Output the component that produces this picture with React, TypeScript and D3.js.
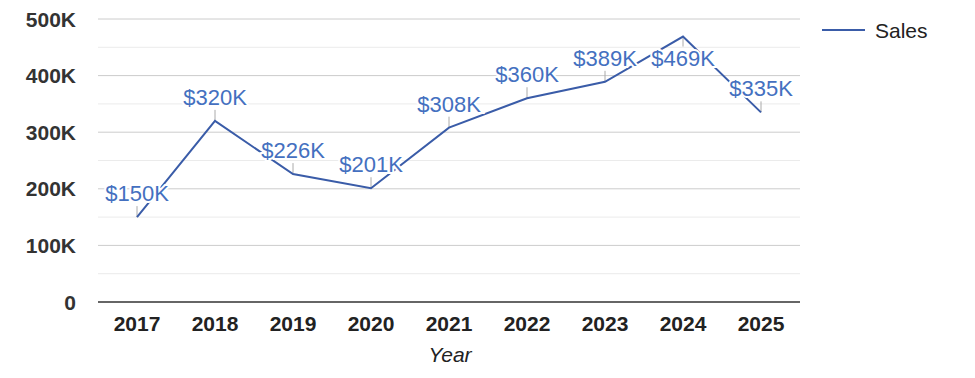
import React from "react";
import * as d3 from "d3";

const years = ["2017", "2018", "2019", "2020", "2021", "2022", "2023", "2024", "2025"];
const sales = [150, 320, 226, 201, 308, 360, 389, 469, 335];
const yTicks = [0, 100, 200, 300, 400, 500];
const yMinorTicks = [50, 150, 250, 350, 450];

const W = 975;
const H = 378;
const M = { left: 98, right: 800, top: 19, bottom: 302 };

export default function App() {
  const x = d3.scaleBand<string>().domain(years).range([M.left, M.right]);
  const y = d3.scaleLinear().domain([0, 500]).range([M.bottom, M.top]);
  const cx = (d: string) => (x(d) as number) + x.bandwidth() / 2;
  const line = d3
    .line<number>()
    .x((_, i) => cx(years[i]))
    .y((d) => y(d));
  const font = "Arial, 'Liberation Sans', sans-serif";
  const lineColor = "#3a5ca8";
  const labelColor = "#4470c0";
  const maxV = d3.max(sales) as number;

  return (
    <svg width={W} height={H} style={{ position: "absolute", left: 0, top: 0, fontFamily: font }}>
      <rect width={W} height={H} fill="#fff" />
      {yMinorTicks.map((t) => (
        <line key={"m" + t} x1={M.left} x2={M.right} y1={y(t)} y2={y(t)} stroke="#ebebeb" strokeWidth={1} />
      ))}
      {yTicks.map((t) => (
        <g key={t}>
          {t > 0 && <line x1={M.left} x2={M.right} y1={y(t)} y2={y(t)} stroke="#cccccc" strokeWidth={1} />}
          <text x={76} y={y(t)} dy="0.36em" textAnchor="end" fontSize={21} fontWeight="bold" fill="#333">
            {t === 0 ? "0" : `${t}K`}
          </text>
        </g>
      ))}
      <line x1={M.left} x2={M.right} y1={M.bottom} y2={M.bottom} stroke="#333" strokeWidth={1.5} />
      {years.map((yr) => (
        <text key={yr} x={cx(yr)} y={331} textAnchor="middle" fontSize={21} fontWeight="bold" fill="#222">
          {yr}
        </text>
      ))}
      <text x={450} y={362} textAnchor="middle" fontSize={21} fontStyle="italic" fill="#222">
        Year
      </text>
      {sales.map((v, i) => {
        const below = v === maxV;
        return (
          <line
            key={"l" + i}
            x1={cx(years[i])}
            x2={cx(years[i])}
            y1={below ? y(v) + 10 : y(v) - 11}
            y2={y(v)}
            stroke="#aaa"
            strokeWidth={1}
          />
        );
      })}
      <path d={line(sales) as string} fill="none" stroke={lineColor} strokeWidth={2} />
      {sales.map((v, i) => {
        const below = v === maxV;
        return (
          <text
            key={"t" + i}
            x={cx(years[i])}
            y={below ? y(v) + 29 : y(v) - 16}
            textAnchor="middle"
            fontSize={22}
            fill={labelColor}
            stroke="#fff"
            strokeWidth={4}
            paintOrder="stroke"
          >
            {`$${v}K`}
          </text>
        );
      })}
      <line x1={822} x2={865} y1={30} y2={30} stroke={lineColor} strokeWidth={2} />
      <text x={875} y={30} dy="0.36em" fontSize={21} fill="#222">
        Sales
      </text>
    </svg>
  );
}
